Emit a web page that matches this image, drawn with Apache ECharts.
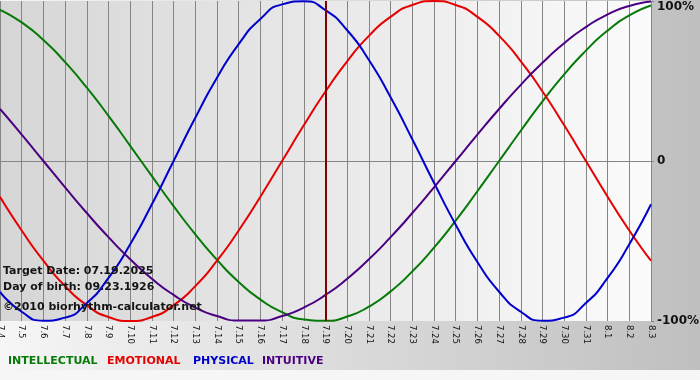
<!DOCTYPE html>
<html>
<head>
<meta charset="utf-8">
<script src="https://cdn.jsdelivr.net/npm/echarts@6/dist/echarts.min.js"></script>
<style>
  html, body { margin: 0; padding: 0; }
  #chart { width: 700px; height: 380px; }
</style>
</head>
<body>
<div id="chart"></div>
<script>
// days shown on the x axis
const days = ['7.4', '7.5', '7.6', '7.7', '7.8', '7.9', '7.10', '7.11', '7.12', '7.13', '7.14', '7.15',
  '7.16', '7.17', '7.18', '7.19', '7.20', '7.21', '7.22', '7.23', '7.24', '7.25', '7.26', '7.27',
  '7.28', '7.29', '7.30', '7.31', '8.1', '8.2', '8.3'];
const targetDay = '7.19';

// cycle values in %, one per day
const intellectual = [94.5, 86.6, 75.6, 61.8, 45.8, 28.2, 9.5, -9.5, -28.2, -45.8, -61.8, -75.6, -86.6,
  -94.5, -99.0, -99.9, -97.2, -91.0, -81.5, -69.0, -54.1, -37.2, -18.9, 0, 18.9, 37.2, 54.1, 69.0,
  81.5, 91.0, 97.2];
const emotional = [-22.3, -43.4, -62.3, -78.2, -90.1, -97.5, -100, -97.5, -90.1, -78.2, -62.3, -43.4,
  -22.3, 0, 22.3, 43.4, 62.3, 78.2, 90.1, 97.5, 100, 97.5, 90.1, 78.2, 62.3, 43.4, 22.3, 0, -22.3,
  -43.4, -62.3];
const physical = [-81.7, -94.2, -99.8, -97.9, -88.8, -73.1, -52.0, -27.0, 0, 27.0, 52.0, 73.1, 88.8,
  97.9, 99.8, 94.2, 81.7, 63.1, 39.8, 13.6, -13.6, -39.8, -63.1, -81.7, -94.2, -99.8, -97.9, -88.8,
  -73.1, -52.0, -27.0];
const intuitive = [32.5, 16.5, 0, -16.5, -32.5, -47.6, -61.4, -73.6, -83.7, -91.6, -96.9, -99.7, -99.7,
  -96.9, -91.6, -83.7, -73.6, -61.4, -47.6, -32.5, -16.5, 0, 16.5, 32.5, 47.6, 61.4, 73.6, 83.7,
  91.6, 96.9, 99.7];

const names = ['INTELLECTUAL', 'EMOTIONAL', 'PHYSICAL', 'INTUITIVE'];
const colors = ['#067a06', '#e60000', '#0000cc', '#4b0082'];
const infoLines = ['Target Date: 07.19.2025', 'Day of birth: 09.23.1926', '©2010 biorhythm-calculator.net'];

const fontFamily = 'DejaVu Sans';
const gridColor = '#858585';

const chart = echarts.init(document.getElementById('chart'));

const makeSeries = (name, data, color) => ({
  name: name,
  type: 'line',
  data: data,
  smooth: 0.6,
  symbol: 'none',
  lineStyle: { color: color, width: 2 },
  itemStyle: { color: color },
  emphasis: { disabled: true }
});

const seriesData = [
  makeSeries(names[0], intellectual, colors[0]),
  makeSeries(names[1], emotional, colors[1]),
  makeSeries(names[2], physical, colors[2]),
  makeSeries(names[3], intuitive, colors[3])
];
seriesData[0].markLine = {
  silent: true,
  symbol: 'none',
  label: { show: false },
  lineStyle: { color: '#800000', width: 2, type: 'solid' },
  data: [{ xAxis: targetDay }]
};

// legend words and info lines as text
const legendX = [8, 107, 193, 262];
const graphics = [{
  type: 'rect',
  left: 0, top: 370,
  shape: { width: 700, height: 10 },
  style: { fill: '#f6f6f6' },
  silent: true
}];
names.forEach((n, i) => {
  graphics.push({
    type: 'text',
    left: legendX[i], top: 356,
    style: { text: n, fill: colors[i], font: 'bold 11px "DejaVu Sans"' }
  });
});
infoLines.forEach((t, i) => {
  graphics.push({
    type: 'text',
    left: 3, top: [266, 282, 302][i],
    z: 10,
    style: { text: t, fill: '#141414', font: 'bold 11px "DejaVu Sans"' }
  });
});

const option = {
  animation: false,
  backgroundColor: new echarts.graphic.LinearGradient(0, 0, 1, 0, [
    { offset: 0, color: '#f6f6f6' },
    { offset: 1, color: '#bfbfbf' }
  ]),
  grid: {
    left: 0, right: 49, top: 1, bottom: 59,
    containLabel: false,
    outerBoundsMode: 'none',
    show: true,
    borderWidth: 0,
    backgroundColor: new echarts.graphic.LinearGradient(0, 0, 1, 0, [
      { offset: 0, color: '#d6d6d6' },
      { offset: 1, color: '#fbfbfb' }
    ])
  },
  graphic: graphics,
  xAxis: {
    type: 'category',
    data: days,
    boundaryGap: false,
    axisLine: { lineStyle: { color: gridColor } },
    axisTick: { show: true, length: 4, lineStyle: { color: gridColor } },
    axisLabel: {
      interval: 0,
      rotate: -90,
      margin: 4,
      color: '#111',
      fontSize: 8.5,
      fontFamily: fontFamily
    },
    splitLine: { show: true, lineStyle: { color: gridColor, width: 1 } }
  },
  yAxis: {
    type: 'value',
    position: 'right',
    min: -100,
    max: 100,
    interval: 100,
    axisLine: { show: false },
    axisTick: { show: true, length: 3, lineStyle: { color: gridColor } },
    axisLabel: {
      margin: 6,
      color: '#111',
      fontSize: 12,
      fontWeight: 'bold',
      fontFamily: fontFamily,
      formatter: v => v === 100 ? '{t|100%}' : (v === 0 ? '0' : v + '%'),
      rich: {
        t: { padding: [12, 0, 0, 0], fontSize: 12, fontWeight: 'bold', fontFamily: fontFamily, color: '#111' }
      }
    },
    splitLine: {
      show: true,
      lineStyle: { color: ['rgba(0,0,0,0)', gridColor, 'rgba(0,0,0,0)'], width: 1 }
    }
  },
  series: seriesData
};

chart.setOption(option);
</script>
</body>
</html>
